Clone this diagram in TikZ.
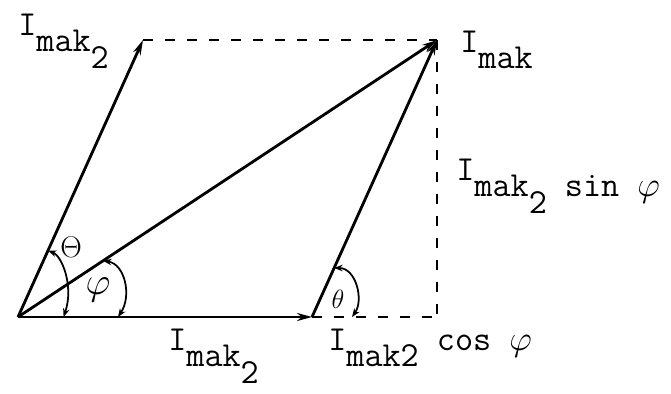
\RequirePackage{fix-cm}
\documentclass[tikz,border=0pt]{standalone}
\usepackage{fontspec}
\usetikzlibrary{arrows.meta,calc}
\newcommand\lowr[1]{\raisebox{-9.5pt}{#1}}

\begin{document}
\begin{tikzpicture}[x=0.02cm,y=-0.02cm,
vec/.style={-{Stealth[length=3mm,width=1.6mm]},line width=1.6pt},
proj/.style={line width=1.2pt,dash pattern=on 2mm off 2.4mm},
ang/.style={{Stealth[length=1.7mm,width=1.3mm]}-{Stealth[length=1.7mm,width=1.3mm]},line width=1pt},
lbl/.style={font=\ttfamily\fontsize{20}{22}\selectfont,inner sep=0pt,anchor=base west},
angl/.style={inner sep=0pt}
]
\useasboundingbox (0,0) rectangle (671,393);
\coordinate (O) at (18,317);
\coordinate (A) at (312,317);
\coordinate (B) at (437,40);
\coordinate (C) at ($(O)+(B)-(A)$);
\coordinate (D) at (B |- A);
% projections
\draw[proj] (C) -- (B);
\draw[proj] (B) -- (D);
\draw[proj] (A) -- (D);
% vectors
\draw[vec] (O) -- (A);
\draw[vec] (O) -- (C);
\draw[vec] (O) -- (B);
\draw[vec] (A) -- (B);
% angles
\coordinate (t1) at ($(O)!0.24!(C)$);
\coordinate (t2) at ($(O)!0.155!(A)$);
\coordinate (p1) at ($(O)!0.203!(B)$);
\coordinate (p2) at ($(O)!0.34!(A)$);
\coordinate (q1) at ($(A)!0.177!(B)$);
\coordinate (q2) at ($(A)!0.32!(D)$);
\draw[ang] (t1) .. controls (62,256) and (74,286) .. (t2);
\draw[ang] (p1) .. controls (125,264) and (132,296) .. (p2);
\draw[ang] (q1) .. controls (356,268) and (364,300) .. (q2);
\node[angl,font=\fontsize{17}{19}\selectfont] (th1) at (71,247) {$\Theta$};
\node[angl,font=\fontsize{22}{24}\selectfont] (ph) at (98,290) {$\varphi$};
\node[angl,font=\fontsize{15}{16}\selectfont] (th2) at (338,299) {$\theta$};
% labels
\node[lbl] (lC) at (18,35) {I\lowr{mak\lowr{2}}};
\node[lbl] (lB) at (460,52) {I\lowr{mak}};
\node[lbl] (lsin) at (456,180) {I\lowr{mak\lowr{2} sin $\varphi$}};
\node[lbl] (lOA) at (168,350) {I\lowr{mak\lowr{2}}};
\node[lbl] (lcos) at (328,350) {I\lowr{mak2} cos $\varphi$};
\end{tikzpicture}
\end{document}
